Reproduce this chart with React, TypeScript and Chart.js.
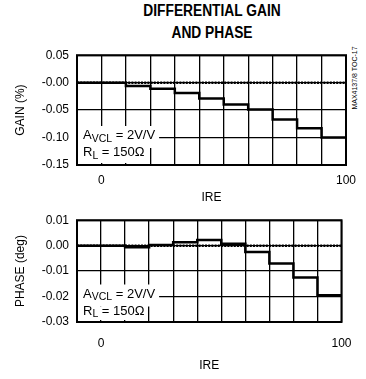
import React, { useEffect, useRef } from "react";
import { Chart, registerables } from "chart.js";

Chart.register(...registerables);

const FONT = "'Liberation Sans', Arial, Helvetica, sans-serif";

// IRE step boundaries (each value holds from the previous x up to this x)
const IRE_STEPS = [-10, 10, 20, 30, 40, 50, 60, 70, 80, 90, 100];
const GAIN_VALUES = [0, 0, -0.006, -0.011, -0.019, -0.029, -0.04, -0.049, -0.067, -0.083, -0.1];
const PHASE_VALUES = [0, 0, -0.0006, 0.0003, 0.0013, 0.0022, 0.0007, -0.0025, -0.007, -0.0125, -0.0195];

const IRE_MIN = -10;
const IRE_MAX = 100;
const IRE_GRID = [-10, 0, 10, 20, 30, 40, 50, 60, 70, 80, 90, 100];
const IRE_TICK_VALUES = [0, 100];
const IRE_TICK_LABELS = ["0", "100"];

const GAIN_TICKS = [-0.15, -0.1, -0.05, 0, 0.05];
const GAIN_TICK_LABELS = ["-0.15", "-0.10", "-0.05", "-0.00", "0.05"];
const PHASE_TICKS = [-0.03, -0.02, -0.01, 0, 0.01];
const PHASE_TICK_LABELS = ["-0.03", "-0.02", "-0.01", "0.00", "0.01"];

const ANNOT_LINE1 = ["A", "VCL", " = 2V/V"];
const ANNOT_LINE2 = ["R", "L", " = 150\u03A9"];

type PanelProps = {
  top: number;
  height: number;
  padTop: number;
  plotHeight: number;
  xTickPad: number;
  xTitlePad: number;
  yTitle: string;
  values: number[];
  ticks: number[];
  tickLabels: string[];
  annotBase1: number;
  annotBase2: number;
};

function Panel(p: PanelProps) {
  const ref = useRef<HTMLCanvasElement>(null);
  useEffect(() => {
    const canvas = ref.current!;
    const panelPlugin = {
      id: "panel",
      beforeDatasetsDraw(chart: any) {
        const { ctx, chartArea } = chart;
        const { left, bottom } = chartArea;
        ctx.save();
        const big = `13px ${FONT}`;
        const small = `10.5px ${FONT}`;
        const measure = (parts: string[]) => {
          ctx.font = big;
          let w = ctx.measureText(parts[0]).width + ctx.measureText(parts[2]).width;
          ctx.font = small;
          w += ctx.measureText(parts[1]).width;
          return w;
        };
        const tx = left + 6;
        const w1 = measure(ANNOT_LINE1);
        const w2 = measure(ANNOT_LINE2);
        const b1 = bottom - p.annotBase1;
        const b2 = bottom - p.annotBase2;
        const mid = b1 + 9;
        ctx.fillStyle = "#fff";
        ctx.fillRect(left + 1, b1 - 13, tx + w1 + 3 - left, mid - (b1 - 13));
        ctx.fillRect(left + 1, mid, tx + w2 + 2 - left, bottom - 2 - mid);
        ctx.fillStyle = "#000";
        ctx.textBaseline = "alphabetic";
        ctx.textAlign = "left";
        const drawLine = (parts: string[], base: number) => {
          let x = tx;
          ctx.font = big;
          ctx.fillText(parts[0], x, base);
          x += ctx.measureText(parts[0]).width;
          ctx.font = small;
          ctx.fillText(parts[1], x, base + 2.5);
          x += ctx.measureText(parts[1]).width;
          ctx.font = big;
          ctx.fillText(parts[2], x, base);
        };
        drawLine(ANNOT_LINE1, b1);
        drawLine(ANNOT_LINE2, b2);
        ctx.restore();
      },
      afterDraw(chart: any) {
        const { ctx, chartArea } = chart;
        ctx.save();
        ctx.setLineDash([]);
        ctx.strokeStyle = "#000";
        ctx.lineWidth = 2;
        ctx.strokeRect(chartArea.left, chartArea.top, chartArea.right - chartArea.left, chartArea.bottom - chartArea.top);
        ctx.restore();
      },
    };

    const labelFor = (v: number, vals: number[], labels: string[]) => {
      for (let i = 0; i < vals.length; i++) if (Math.abs(vals[i] - v) < 1e-9) return labels[i];
      return "";
    };

    const chart = new Chart(canvas, {
      type: "line",
      data: {
        datasets: [
          {
            data: IRE_STEPS.map((x, i) => ({ x, y: p.values[i] })),
            borderColor: "#000",
            borderWidth: 2.5,
            pointRadius: 0,
            stepped: "after",
          },
          {
            data: [
              { x: IRE_MIN, y: 0 },
              { x: IRE_MAX, y: 0 },
            ],
            borderColor: "#000",
            borderWidth: 2.5,
            borderDash: [2, 1.2],
            pointRadius: 0,
          },
        ],
      },
      options: {
        animation: false,
        responsive: false,
        layout: { padding: { top: p.padTop, right: 20, left: 0, bottom: 0 } },
        plugins: { legend: { display: false }, tooltip: { enabled: false } },
        scales: {
          x: {
            type: "linear",
            min: IRE_MIN,
            max: IRE_MAX,
            afterBuildTicks: (s: any) => {
              s.ticks = IRE_GRID.map((v) => ({ value: v }));
            },
            afterFit: (s: any) => {
              s.height = p.height - p.padTop - p.plotHeight;
            },
            grid: { display: true, color: "#000", lineWidth: 1.3, drawTicks: false },
            border: { display: false },
            ticks: {
              autoSkip: false,
              maxRotation: 0,
              padding: p.xTickPad,
              color: "#000",
              font: { family: FONT, size: 12 },
              callback: (v: any) => labelFor(Number(v), IRE_TICK_VALUES, IRE_TICK_LABELS),
            },
            title: {
              display: true,
              text: "IRE",
              color: "#000",
              font: { family: FONT, size: 12 },
              padding: { top: 0, bottom: p.xTitlePad },
            },
          },
          y: {
            type: "linear",
            min: p.ticks[0],
            max: p.ticks[p.ticks.length - 1],
            afterBuildTicks: (s: any) => {
              s.ticks = p.ticks.map((v) => ({ value: v }));
            },
            afterFit: (s: any) => {
              s.width = 77;
            },
            grid: { display: true, color: "#000", lineWidth: 1.3, drawTicks: false },
            border: { display: false },
            ticks: {
              autoSkip: false,
              padding: 8,
              color: "#000",
              font: { family: FONT, size: 12 },
              callback: (v: any) => labelFor(Number(v), p.ticks, p.tickLabels),
            },
            title: {
              display: true,
              text: p.yTitle,
              color: "#000",
              font: { family: FONT, size: 12 },
              padding: { top: 13.5, bottom: 0 },
            },
          },
        },
      } as any,
      plugins: [panelPlugin],
    });
    return () => chart.destroy();
  }, []);
  return (
    <canvas
      ref={ref}
      width={366}
      height={p.height}
      style={{ position: "absolute", left: 0, top: p.top, width: 366, height: p.height }}
    />
  );
}

export default function App() {
  return (
    <div style={{ position: "absolute", left: 0, top: 0, width: 366, height: 379, background: "#fff", overflow: "hidden" }}>
      <div
        style={{
          position: "absolute",
          left: 82,
          top: 0.25,
          width: 260,
          textAlign: "center",
          fontFamily: FONT,
          fontWeight: "bold",
          fontSize: 16,
          lineHeight: "21.5px",
          color: "#000",
          transform: "scaleX(0.86)",
          transformOrigin: "130px 0",
          whiteSpace: "nowrap",
        }}
      >
        <div>DIFFERENTIAL GAIN</div>
        <div>AND PHASE</div>
      </div>
      <div
        style={{
          position: "absolute",
          left: 354,
          top: 78,
          fontFamily: FONT,
          fontSize: 7,
          color: "#000",
          whiteSpace: "nowrap",
          transform: "translate(-50%, -50%) rotate(-90deg)",
        }}
      >
        MAX4137/8 TOC-17
      </div>
      <Panel
        top={40}
        height={170}
        padTop={13}
        plotHeight={112}
        xTickPad={8}
        xTitlePad={5}
        yTitle="GAIN (%)"
        values={GAIN_VALUES}
        ticks={GAIN_TICKS}
        tickLabels={GAIN_TICK_LABELS}
        annotBase1={26}
        annotBase2={9}
      />
      <Panel
        top={205}
        height={174}
        padTop={9}
        plotHeight={108}
        xTickPad={14.5}
        xTitlePad={6}
        yTitle="PHASE (deg)"
        values={PHASE_VALUES}
        ticks={PHASE_TICKS}
        tickLabels={PHASE_TICK_LABELS}
        annotBase1={24.5}
        annotBase2={7.5}
      />
    </div>
  );
}
